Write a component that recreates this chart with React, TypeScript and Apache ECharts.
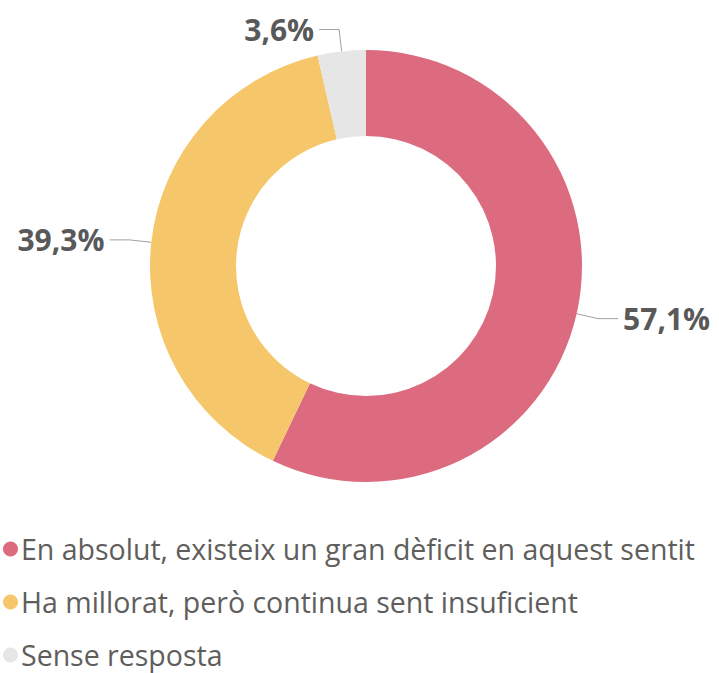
import React, { useEffect, useRef } from "react";
import * as echarts from "echarts";

const categories = [
  "En absolut, existeix un gran dèficit en aquest sentit",
  "Ha millorat, però continua sent insuficient",
  "Sense resposta",
];
const values = [57.1, 39.3, 3.6];
const colors = ["#DD6B7F", "#F5C76A", "#E6E6E6"];

export default function App() {
  const ref = useRef<HTMLDivElement>(null);
  useEffect(() => {
    if (!ref.current) return;
    const chart = echarts.init(ref.current, undefined, { renderer: "svg" });
    chart.setOption({
      animation: false,
      color: colors,
      legend: {
        orient: "vertical",
        left: 3,
        top: 533,
        height: 140,
        padding: 0,
        icon: "circle",
        itemWidth: 15,
        itemHeight: 15,
        itemGap: 21,
        textStyle: {
          fontFamily: "Open Sans",
          fontSize: 28.5,
          lineHeight: 32,
          color: "#605E5C",
          padding: [0, 0, 0, -2],
        },
        data: categories,
      },
      series: [
        {
          type: "pie",
          center: [366, 266],
          radius: [130, 216],
          startAngle: 90,
          clockwise: true,
          data: categories.map((name, i) => ({ name, value: values[i] })),
          label: {
            show: true,
            position: "outside",
            overflow: "none",
            formatter: (p: any) => p.value.toFixed(1).replace(".", ",") + "%",
            fontFamily: "Open Sans",
            fontWeight: "bold",
            fontSize: 30,
            color: "#595959",
          },
          labelLine: {
            show: true,
            length: 22,
            length2: 20,
            lineStyle: { color: "#A0A0A0", width: 1 },
          },
          itemStyle: { borderWidth: 0 },
          emphasis: { disabled: true },
        },
      ],
    });
    return () => chart.dispose();
  }, []);
  return (
    <div
      ref={ref}
      style={{ position: "fixed", left: 0, top: 0, width: 719, height: 673, background: "#fff" }}
    />
  );
}
